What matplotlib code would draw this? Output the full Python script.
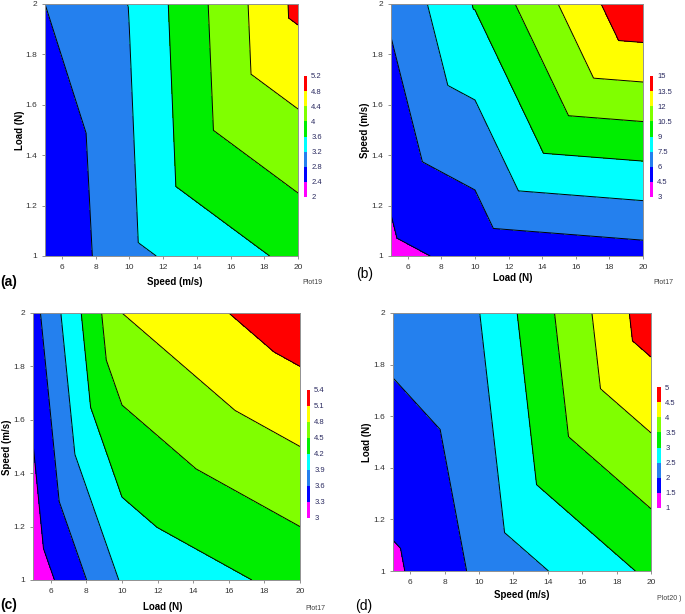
import numpy as np
import matplotlib
matplotlib.use('Agg')
import matplotlib.pyplot as plt
import matplotlib.tri as mtri
from matplotlib.colors import ListedColormap, BoundaryNorm

plt.rcParams['font.family'] = ['Liberation Sans', 'DejaVu Sans']

W, H = 685, 614

# measurement nodes (x, y) shared by all four plots
node_x = [5, 10, 20, 5, 10, 20]
node_y = [1, 1, 1, 2, 2, 2]
node_tris = [[0, 1, 4], [0, 4, 3], [1, 2, 5], [1, 5, 4]]

# response values at the nodes
z_a = [2.41, 3.105, 3.70, 2.8, 3.21, 4.9]
z_b = [4.15, 4.9, 5.4, 6.28, 9.1, 14.96]
z_c = [3.1, 3.93, 4.3, 3.49, 4.8, 5.3]
z_d = [1.405, 2.1, 3.09, 2.2, 2.49, 4.79]

levels_a = [2, 2.4, 2.8, 3.2, 3.6, 4, 4.4, 4.8, 5.2]
levels_b = [3, 4.5, 6, 7.5, 9, 10.5, 12, 13.5, 15]
levels_c = [3, 3.3, 3.6, 3.9, 4.2, 4.5, 4.8, 5.1, 5.4]
levels_d = [1, 1.5, 2, 2.5, 3, 3.5, 4, 4.5, 5]

xticks = [6, 8, 10, 12, 14, 16, 18, 20]
yticks = [1, 1.2, 1.4, 1.6, 1.8, 2]
ytick_labels = ['1', '1.2', '1.4', '1.6', '1.8', '2']

band_colors = ['#ff00ff', '#0000ff', '#2480ee', '#00ffff',
               '#00ee00', '#80ff00', '#ffff00', '#ff0000']
cmap = ListedColormap(band_colors)

tri = mtri.Triangulation(node_x, node_y, node_tris)

fig = plt.figure(figsize=(W / 100, H / 100), dpi=100)


def box(l, t, r, b):
    return [l / W, 1 - b / H, (r - l) / W, (b - t) / H]


def txt(x, y, s, **kw):
    fig.text(x / W, 1 - y / H, s, **kw)


def panel(axbox, cbbox, z, levels):
    ax = fig.add_axes(box(*axbox))
    norm = BoundaryNorm(levels, cmap.N)
    cf = ax.tricontourf(tri, z, levels=levels, cmap=cmap, norm=norm)
    ax.tricontour(tri, z, levels=levels[1:-1], colors='black', linewidths=0.7)
    ax.set_xlim(5, 20)
    ax.set_ylim(1, 2)
    ax.set_xticks(xticks)
    ax.set_xticklabels([str(v) for v in xticks])
    ax.set_yticks(yticks)
    ax.set_yticklabels(ytick_labels)
    ax.tick_params(direction='out', length=2.5, width=0.6, color='#808080',
                   labelsize=6, labelcolor='#333333', pad=3)
    for s in ax.spines.values():
        s.set_color('#909090')
        s.set_linewidth(0.7)
    cax = fig.add_axes(box(*cbbox))
    cb = fig.colorbar(cf, cax=cax, ticks=levels)
    cb.set_ticklabels([('%g' % v) for v in levels])
    cb.outline.set_visible(False)
    cax.tick_params(length=0, labelsize=5.5, labelcolor='#2a2a60', pad=3)
    return ax


panel((45, 4, 298, 256), (304, 76, 307, 197), z_a, levels_a)
panel((391, 4, 643, 256), (650, 76, 653, 197), z_b, levels_b)
panel((33, 313, 300, 580), (307, 390, 310, 518), z_c, levels_c)
panel((393, 313, 651, 571), (657, 387, 661, 508), z_d, levels_d)

lab = dict(fontsize=7, fontweight='bold', ha='center', va='center')
txt(175, 282, 'Speed (m/s)', **lab)
txt(20, 130, 'Load (N)', rotation=90, **lab)
txt(513, 278, 'Load (N)', **lab)
txt(365, 130, 'Speed (m/s)', rotation=90, **lab)
txt(163, 607, 'Load (N)', **lab)
txt(7, 447, 'Speed (m/s)', rotation=90, **lab)
txt(522, 595, 'Speed (m/s)', **lab)
txt(367, 442, 'Load (N)', rotation=90, **lab)

tag = dict(fontsize=5, color='#404040', ha='left', va='center')
txt(302, 282, 'Plot19', **tag)
txt(653, 282, 'Plot17', **tag)
txt(305, 608, 'Plot17', **tag)
txt(657, 598, 'Plot20 )', **tag)

txt(0, 282, '(a)', fontsize=10, fontweight='bold', ha='left', va='center')
txt(356, 274, '(b)', fontsize=10, ha='left', va='center')
txt(0, 605, '(c)', fontsize=10, fontweight='bold', ha='left', va='center')
txt(355, 606, '(d)', fontsize=10, ha='left', va='center')

fig.savefig('out.png', dpi=100)
